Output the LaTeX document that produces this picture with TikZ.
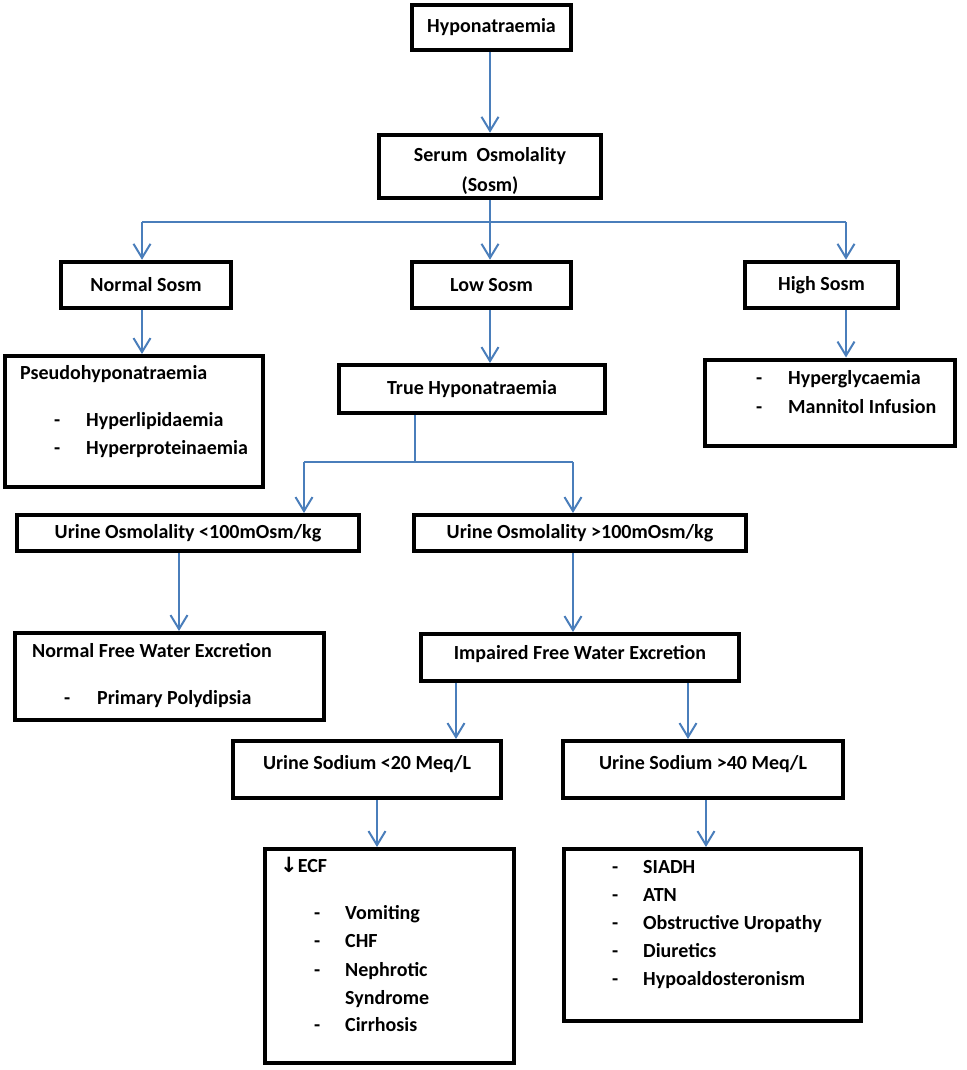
\documentclass[tikz,border=0pt]{standalone}
\usepackage{fontspec}
\setmainfont{Carlito}
\newfontfamily\dejavu{DejaVu Sans}
\usetikzlibrary{arrows.meta}
\definecolor{lblue}{HTML}{4A7EBB}
\begin{document}
\begin{tikzpicture}[x=1pt,y=-1pt,
  fnt/.style={font=\bfseries\fontsize{20}{30}\selectfont},
  box/.style={draw=black, line width=4.5pt, inner sep=0pt, fnt, align=center},
  tbox/.style={box, line width=4pt},
  txt/.style={inner sep=0pt, anchor=west, fnt, text height=14pt, text depth=5pt},
  ctxt/.style={inner sep=0pt, anchor=center, fnt, align=center},
  conn/.style={draw=lblue, line width=2pt},
  arr/.style={conn, -{Straight Barb[length=14pt,width=17pt,line width=2pt]}},
  tarr/.style={arr, line width=1.6pt},
]
\useasboundingbox[fill=white] (0,0) rectangle (966,1070);

% boxes
\node[box, minimum width=159pt, minimum height=45pt] (hypo) at (491.5,27.5) {Hyponatraemia};
\node[box, minimum width=222pt, minimum height=63pt] (serum) at (490,166.5) {};
\node[ctxt] (serumt) at (490,171) {Serum\ \ Osmolality\\(Sosm)};
\node[box, minimum width=170pt, minimum height=46pt] (normal) at (146,285) {Normal Sosm};
\node[box, minimum width=159pt, minimum height=46pt] (low) at (491.5,285) {Low Sosm};
\node[box, minimum width=153pt, minimum height=46pt] (high) at (821.5,285) {High Sosm};

\node[tbox, minimum width=258pt, minimum height=131pt] (pseudo) at (134,421.5) {};
\node[tbox, minimum width=266pt, minimum height=48pt] (truehyp) at (472,389) {True Hyponatraemia};
\node[tbox, minimum width=250pt, minimum height=86pt] (highres) at (830,402.5) {};

\node[tbox, minimum width=342pt, minimum height=36pt] (uo1) at (188,533) {Urine Osmolality <100mOsm/kg};
\node[tbox, minimum width=332pt, minimum height=36pt] (uo2) at (580,533) {Urine Osmolality >100mOsm/kg};

\node[tbox, minimum width=309pt, minimum height=87pt] (nfw) at (169.5,676.5) {};
\node[tbox, minimum width=318pt, minimum height=47pt] (ifw) at (580,657.5) {};
\node[ctxt] (ifwt) at (580,654) {Impaired Free Water Excretion};

\node[tbox, minimum width=268pt, minimum height=57pt] (us1) at (367,769.5) {};
\node[ctxt] (us1t) at (367,764) {Urine Sodium <20 Meq/L};
\node[tbox, minimum width=280pt, minimum height=57pt] (us2) at (703,769.5) {};
\node[ctxt] (us2t) at (703,764) {Urine Sodium >40 Meq/L};

\node[tbox, minimum width=249pt, minimum height=214pt] (ecf) at (389.5,956) {};
\node[tbox, minimum width=297pt, minimum height=172pt] (res2) at (712.5,935) {};

% texts in list boxes
\node[txt] (p0) at (20,375) {Pseudohyponatraemia};
\node[txt] (p1d) at (54,422) {-};
\node[txt] (p1) at (86,422) {Hyperlipidaemia};
\node[txt] (p2d) at (54,450) {-};
\node[txt] (p2) at (86,450) {Hyperproteinaemia};

\node[txt] (h1d) at (756,380) {-};
\node[txt] (h1) at (788,380) {Hyperglycaemia};
\node[txt] (h2d) at (756,409) {-};
\node[txt] (h2) at (788,409) {Mannitol Infusion};

\node[txt] (n0) at (32,653) {Normal Free Water Excretion};
\node[txt] (n1d) at (64,700) {-};
\node[txt] (n1) at (97,700) {Primary Polydipsia};

\node[txt] (e0) at (280,868) {{\dejavu\bfseries\fontsize{21}{20}\selectfont ↓}ECF};
\node[txt] (e1d) at (314,915) {-};
\node[txt] (e1) at (345,915) {Vomiting};
\node[txt] (e2d) at (314,943) {-};
\node[txt] (e2) at (345,943) {CHF};
\node[txt] (e3d) at (314,972) {-};
\node[txt] (e3) at (345,972) {Nephrotic};
\node[txt] (e4) at (345,1000) {Syndrome};
\node[txt] (e5d) at (314,1027) {-};
\node[txt] (e5) at (345,1027) {Cirrhosis};

\node[txt] (r1d) at (612,869) {-};
\node[txt] (r1) at (643,869) {SIADH};
\node[txt] (r2d) at (612,897) {-};
\node[txt] (r2) at (643,897) {ATN};
\node[txt] (r3d) at (612,925) {-};
\node[txt] (r3) at (643,925) {Obstructive Uropathy};
\node[txt] (r4d) at (612,953) {-};
\node[txt] (r4) at (643,953) {Diuretics};
\node[txt] (r5d) at (612,981) {-};
\node[txt] (r5) at (643,981) {Hypoaldosteronism};

% connectors
\coordinate (sx) at (490,222);
\coordinate (hl) at (142,222);
\coordinate (hr) at (846,222);
\draw[arr] (hypo.south -| sx) -- (serum.north -| sx);
\draw[conn, line width=1.6pt] (hl) -- (hr);
\draw[arr] (serum.south -| sx) -- (low.north -| sx);
\draw[arr] (hl) -- (hl |- normal.north);
\draw[arr] (hr) -- (hr |- high.north);
\draw[arr] (hl |- normal.south) -- (hl |- pseudo.north);
\draw[arr] (low.south -| sx) -- (sx |- truehyp.north);
\draw[arr] (hr |- high.south) -- (hr |- highres.north);

\coordinate (tj) at (415,462);
\coordinate (tl) at (304,462);
\coordinate (tr) at (573,462);
\draw[conn, line width=1.6pt] (truehyp.south -| tj) -- (tj);
\draw[conn, line width=1.6pt] (tl) -- (tr);
\draw[tarr] (tl) -- (tl |- uo1.north);
\draw[tarr] (tr) -- (tr |- uo2.north);

\coordinate (a1) at (179,0);
\draw[tarr] (uo1.south -| a1) -- (nfw.north -| a1);
\draw[tarr] (uo2.south -| tr) -- (ifw.north -| tr);

\coordinate (b1) at (456,0);
\coordinate (b2) at (688,0);
\draw[tarr] (ifw.south -| b1) -- (us1.north -| b1);
\draw[tarr] (ifw.south -| b2) -- (us2.north -| b2);

\coordinate (c1) at (377,0);
\coordinate (c2) at (706,0);
\draw[tarr] (us1.south -| c1) -- (ecf.north -| c1);
\draw[tarr] (us2.south -| c2) -- (res2.north -| c2);
\end{tikzpicture}
\end{document}
